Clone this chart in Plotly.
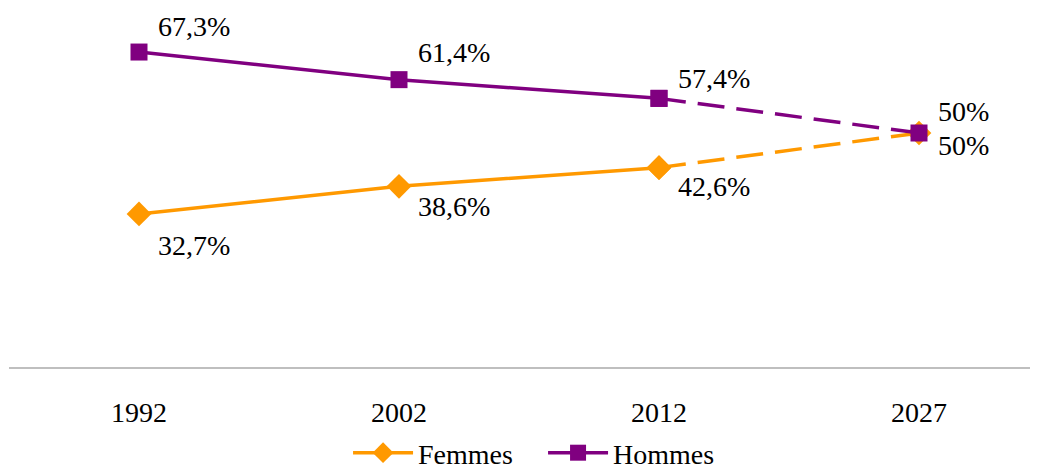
import plotly.graph_objects as go

years = ["1992", "2002", "2012", "2027"]
femmes = [32.7, 38.6, 42.6, 50.0]
hommes = [67.3, 61.4, 57.4, 50.0]
femmes_labels = ["32,7%", "38,6%", "42,6%", "50%"]
hommes_labels = ["67,3%", "61,4%", "57,4%", "50%"]

ORANGE = "#FF9900"
PURPLE = "#800080"
FONT = "Liberation Serif"
FS = 28

fig = go.Figure()

def add_series(name, vals, color, symbol, size):
    fig.add_trace(go.Scatter(
        x=years[:3], y=vals[:3], name=name, mode="lines+markers",
        line=dict(color=color, width=3.5),
        marker=dict(symbol=symbol, size=size, color=color),
        legendgroup=name, showlegend=True))
    fig.add_trace(go.Scatter(
        x=years[2:], y=vals[2:], name=name, mode="lines+markers",
        line=dict(color=color, width=3.5, dash="27px,12px"),
        marker=dict(symbol=symbol, size=size, color=color),
        legendgroup=name, showlegend=False))

add_series("Femmes", femmes, ORANGE, "diamond", 19)
add_series("Hommes", hommes, PURPLE, "square", 17)

h_off = [26, 27, 20, 22]
f_off = [-32, -20, -19, -12]
for i in range(len(years)):
    fig.add_annotation(x=i, y=hommes[i], text=hommes_labels[i], showarrow=False,
                       xanchor="left", yanchor="middle", xshift=17, yshift=h_off[i],
                       font=dict(family=FONT, size=FS, color="#000000"))
    fig.add_annotation(x=i, y=femmes[i], text=femmes_labels[i], showarrow=False,
                       xanchor="left", yanchor="middle", xshift=17, yshift=f_off[i],
                       font=dict(family=FONT, size=FS, color="#000000"))

fig.update_layout(
    width=1030, height=462,
    margin=dict(l=1, r=0, t=8, b=103, autoexpand=False),
    paper_bgcolor="white", plot_bgcolor="white",
    font=dict(family=FONT, size=FS, color="#000000"),
    xaxis=dict(type="category", range=[-0.5, 3.4577], showgrid=False,
               showline=True, linecolor="#BFBFBF", linewidth=1.5,
               ticks="outside", ticklen=20, tickcolor="rgba(0,0,0,0)",
               tickfont=dict(family=FONT, size=FS, color="#000000"),
               zeroline=False),
    yaxis=dict(range=[0, 75], visible=False, showgrid=False, zeroline=False),
    legend=dict(orientation="h", x=0.519, xanchor="center", y=-0.245, yanchor="middle",
                font=dict(family=FONT, size=FS, color="#000000"),
                itemwidth=60, entrywidth=120, bgcolor="rgba(0,0,0,0)"),
    showlegend=True,
)

fig.write_html("out.html")
